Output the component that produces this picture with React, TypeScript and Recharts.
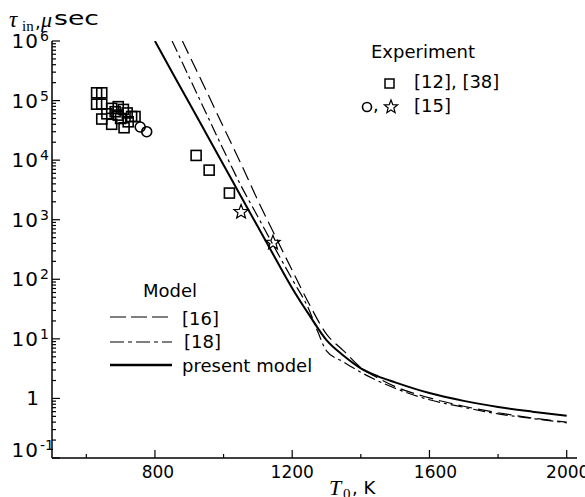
import { ComposedChart, Line, Scatter, XAxis, YAxis } from 'recharts';

// model curves, tau_in (microseconds) vs T0 (K)
const presentT = [800, 850, 900, 950, 1000, 1050, 1100, 1150, 1200, 1250, 1300, 1350, 1400, 1450, 1500, 1600, 1700, 1800, 1900, 2000];
const presentV = [1e6, 3.0e5, 9.1e4, 2.75e4, 8.3e3, 2.5e3, 760, 230, 71, 25, 9.5, 5.2, 3.2, 2.35, 1.86, 1.23, 0.91, 0.72, 0.6, 0.51];

const ref16T = [880, 900, 950, 1000, 1050, 1100, 1150, 1200, 1250, 1300, 1350, 1400, 1450, 1500, 1600, 1700, 1800, 1900, 2000];
const ref16V = [1e6, 5.75e5, 1.45e5, 3.55e4, 8.9e3, 2.1e3, 540, 141, 38, 12, 6.3, 3.3, 2.2, 1.58, 1.02, 0.74, 0.575, 0.47, 0.4];

const ref18T = [850, 900, 950, 1000, 1050, 1100, 1150, 1200, 1250, 1275, 1300, 1350, 1400, 1500, 1600, 1700, 1800, 1900, 2000];
const ref18V = [1e6, 2.45e5, 6.0e4, 1.48e4, 3.8e3, 1.12e3, 330, 100, 30, 13, 6.3, 4.1, 2.75, 1.48, 0.95, 0.71, 0.55, 0.46, 0.39];

// experiment [12], [38]
const squareT = [630, 645, 630, 645, 645, 660, 674, 684, 693, 700, 708, 674, 693, 710, 719, 722, 732, 742, 920, 958, 1017];
const squareV = [1.35e5, 1.35e5, 8.7e4, 8.7e4, 4.9e4, 6.0e4, 7.4e4, 6.5e4, 7.9e4, 5.0e4, 7.1e4, 4.0e4, 5.7e4, 3.5e4, 6.2e4, 4.4e4, 5.4e4, 5.4e4, 1.2e4, 6.8e3, 2.8e3];

// experiment [15]
const circleT = [757, 776];
const circleV = [3.6e4, 3.0e4];
const starT = [1051, 1144];
const starV = [1350, 410];

const xTicks = [600, 800, 1000, 1200, 1400, 1600, 1800, 2000];
const xLabels = [800, 1200, 1600, 2000];
const decades = [-1, 0, 1, 2, 3, 4, 5, 6];

const zip = (t: number[], v: number[]) => t.map((x, i) => ({ t: x, v: v[i] }));

const yTicks: number[] = [];
decades.forEach((d) => {
  yTicks.push(Math.pow(10, d));
  if (d < 6) for (let m = 2; m <= 9; m++) yTicks.push(m * Math.pow(10, d));
});

const W = 585;
const H = 497;
const AXIS_X = 52;
const AXIS_Y = 458;
const SANS = "'DejaVu Sans', sans-serif";
const SERIF = "'Liberation Serif', 'DejaVu Serif', serif";
// the original labels sit a little off their ticks
const labelShift: Record<number, number> = { 800: 3, 1200: 0, 1600: 6, 2000: 1 };

const YTick = ({ y, payload }: any) => {
  const v = payload.value;
  const lg = Math.log10(v);
  const e = Math.round(lg);
  const major = Math.abs(lg - e) < 1e-6;
  const by = e === -1 ? y - 1 : y + 7;
  return (
    <g>
      <line x1={AXIS_X} x2={AXIS_X + (major ? 8 : 4)} y1={y} y2={y} stroke="#000" strokeWidth={1.2} />
      {major && e === 0 && (
        <text x={39} y={by} textAnchor="end" fontFamily={SANS} fontSize={20} fill="#000">1</text>
      )}
      {major && e !== 0 && (
        <g>
          <text x={39} y={by} textAnchor="end" fontFamily={SANS} fontSize={20} letterSpacing={1} fill="#000">10</text>
          <text x={40} y={by - 7} textAnchor="start" fontFamily={SANS} fontSize={14} fill="#000">{e}</text>
        </g>
      )}
    </g>
  );
};

const XTick = ({ x, payload }: any) => {
  const major = xLabels.includes(payload.value);
  return (
    <g>
      <line x1={x} x2={x} y1={AXIS_Y} y2={AXIS_Y - (major ? 8 : 4)} stroke="#000" strokeWidth={1.2} />
      {major && (
        <text x={x + (labelShift[payload.value] || 0)} y={478} textAnchor="middle" fontFamily={SANS} fontSize={17} fill="#000">
          {payload.value}
        </text>
      )}
    </g>
  );
};

const SquareShape = ({ cx, cy }: any) => (
  <rect x={cx - 5} y={cy - 5} width={10} height={10} fill="none" stroke="#000" strokeWidth={1.6} />
);

const CircleShape = ({ cx, cy }: any) => (
  <circle cx={cx} cy={cy} r={5} fill="none" stroke="#000" strokeWidth={1.6} />
);

const starPoints = (cx: number, cy: number, ro: number, ri: number) => {
  const pts: string[] = [];
  for (let i = 0; i < 10; i++) {
    const r = i % 2 === 0 ? ro : ri;
    const a = -Math.PI / 2 + (i * Math.PI) / 5;
    pts.push(`${cx + r * Math.cos(a)},${cy + r * Math.sin(a)}`);
  }
  return pts.join(' ');
};

const StarShape = ({ cx, cy }: any) => (
  <polygon points={starPoints(cx, cy, 7.5, 3.2)} fill="none" stroke="#000" strokeWidth={1.2} />
);

export default function App() {
  return (
    <div style={{ position: 'absolute', left: 0, top: 0, width: W, height: H, background: '#fff' }}>
      <ComposedChart width={W} height={H} margin={{ top: 41, right: 8, bottom: 0, left: 0 }}>
        <XAxis
          type="number"
          dataKey="t"
          domain={[500, 2030]}
          ticks={xTicks}
          height={39}
          axisLine={{ stroke: '#000', strokeWidth: 1.5 }}
          tickLine={false}
          tick={<XTick />}
          interval={0}
        />
        <YAxis
          type="number"
          dataKey="v"
          scale="log"
          domain={[0.1, 1e6]}
          allowDataOverflow
          ticks={yTicks}
          width={52}
          axisLine={{ stroke: '#000', strokeWidth: 1.5 }}
          tickLine={false}
          tick={<YTick />}
          interval={0}
        />
        <Line data={zip(ref16T, ref16V)} dataKey="v" type="monotone" stroke="#000" strokeWidth={1.2}
          strokeDasharray="14 6" dot={false} activeDot={false} isAnimationActive={false} />
        <Line data={zip(ref18T, ref18V)} dataKey="v" type="monotone" stroke="#000" strokeWidth={1.2}
          strokeDasharray="12 4 3 4" dot={false} activeDot={false} isAnimationActive={false} />
        <Line data={zip(presentT, presentV)} dataKey="v" type="monotone" stroke="#000" strokeWidth={2}
          dot={false} activeDot={false} isAnimationActive={false} />
        <Scatter data={zip(squareT, squareV)} dataKey="v" shape={<SquareShape />} isAnimationActive={false} />
        <Scatter data={zip(circleT, circleV)} dataKey="v" shape={<CircleShape />} isAnimationActive={false} />
        <Scatter data={zip(starT, starV)} dataKey="v" shape={<StarShape />} isAnimationActive={false} />
      </ComposedChart>

      <svg width={W} height={H} style={{ position: 'absolute', left: 0, top: 0, pointerEvents: 'none' }}>
        {/* y title */}
        <text x={9} y={27} fontFamily={SERIF} fontStyle="italic" fontSize={23} fill="#000">τ</text>
        <text x={22} y={31} fontFamily={SERIF} fontSize={15} fill="#000">in</text>
        <text x={35} y={28} fontFamily={SANS} fontSize={18} fill="#000">,</text>
        <text x={41} y={27} fontFamily={SERIF} fontStyle="italic" fontSize={22} fill="#000">μ</text>
        <text x={54} y={25} fontFamily={SANS} fontSize={20} textLength={45} lengthAdjust="spacingAndGlyphs" fill="#000">sec</text>

        {/* x title */}
        <text x={329} y={495} fontFamily={SERIF} fontStyle="italic" fontSize={22} fill="#000">T</text>
        <text x={343} y={499} fontFamily={SERIF} fontSize={15} fill="#000">0</text>
        <text x={352} y={494} fontFamily={SANS} fontSize={18} fill="#000">, K</text>

        {/* experiment legend */}
        <text x={371} y={58} fontFamily={SANS} fontSize={18} fill="#000">Experiment</text>
        <rect x={385} y={79} width={9} height={9} fill="none" stroke="#000" strokeWidth={1.5} />
        <text x={414} y={88} fontFamily={SANS} fontSize={18} fill="#000">[12], [38]</text>
        <circle cx={367} cy={107} r={4.5} fill="none" stroke="#000" strokeWidth={1.6} />
        <text x={373} y={111} fontFamily={SANS} fontSize={18} fill="#000">,</text>
        <polygon points={starPoints(391, 107, 7, 3)} fill="none" stroke="#000" strokeWidth={1.2} />
        <text x={414} y={112} fontFamily={SANS} fontSize={18} fill="#000">[15]</text>

        {/* model legend */}
        <text x={143} y={297} fontFamily={SANS} fontSize={18} fill="#000">Model</text>
        <line x1={110} x2={172} y1={317} y2={317} stroke="#000" strokeWidth={1.2} strokeDasharray="16 5" />
        <text x={182} y={325} fontFamily={SANS} fontSize={18} fill="#000">[16]</text>
        <line x1={110} x2={172} y1={342} y2={342} stroke="#000" strokeWidth={1.2} strokeDasharray="14 4 4 4" />
        <text x={184} y={348} fontFamily={SANS} fontSize={18} fill="#000">[18]</text>
        <line x1={110} x2={172} y1={365} y2={365} stroke="#000" strokeWidth={2.5} />
        <text x={182} y={372} fontFamily={SANS} fontSize={18} fill="#000">present model</text>
      </svg>
    </div>
  );
}
